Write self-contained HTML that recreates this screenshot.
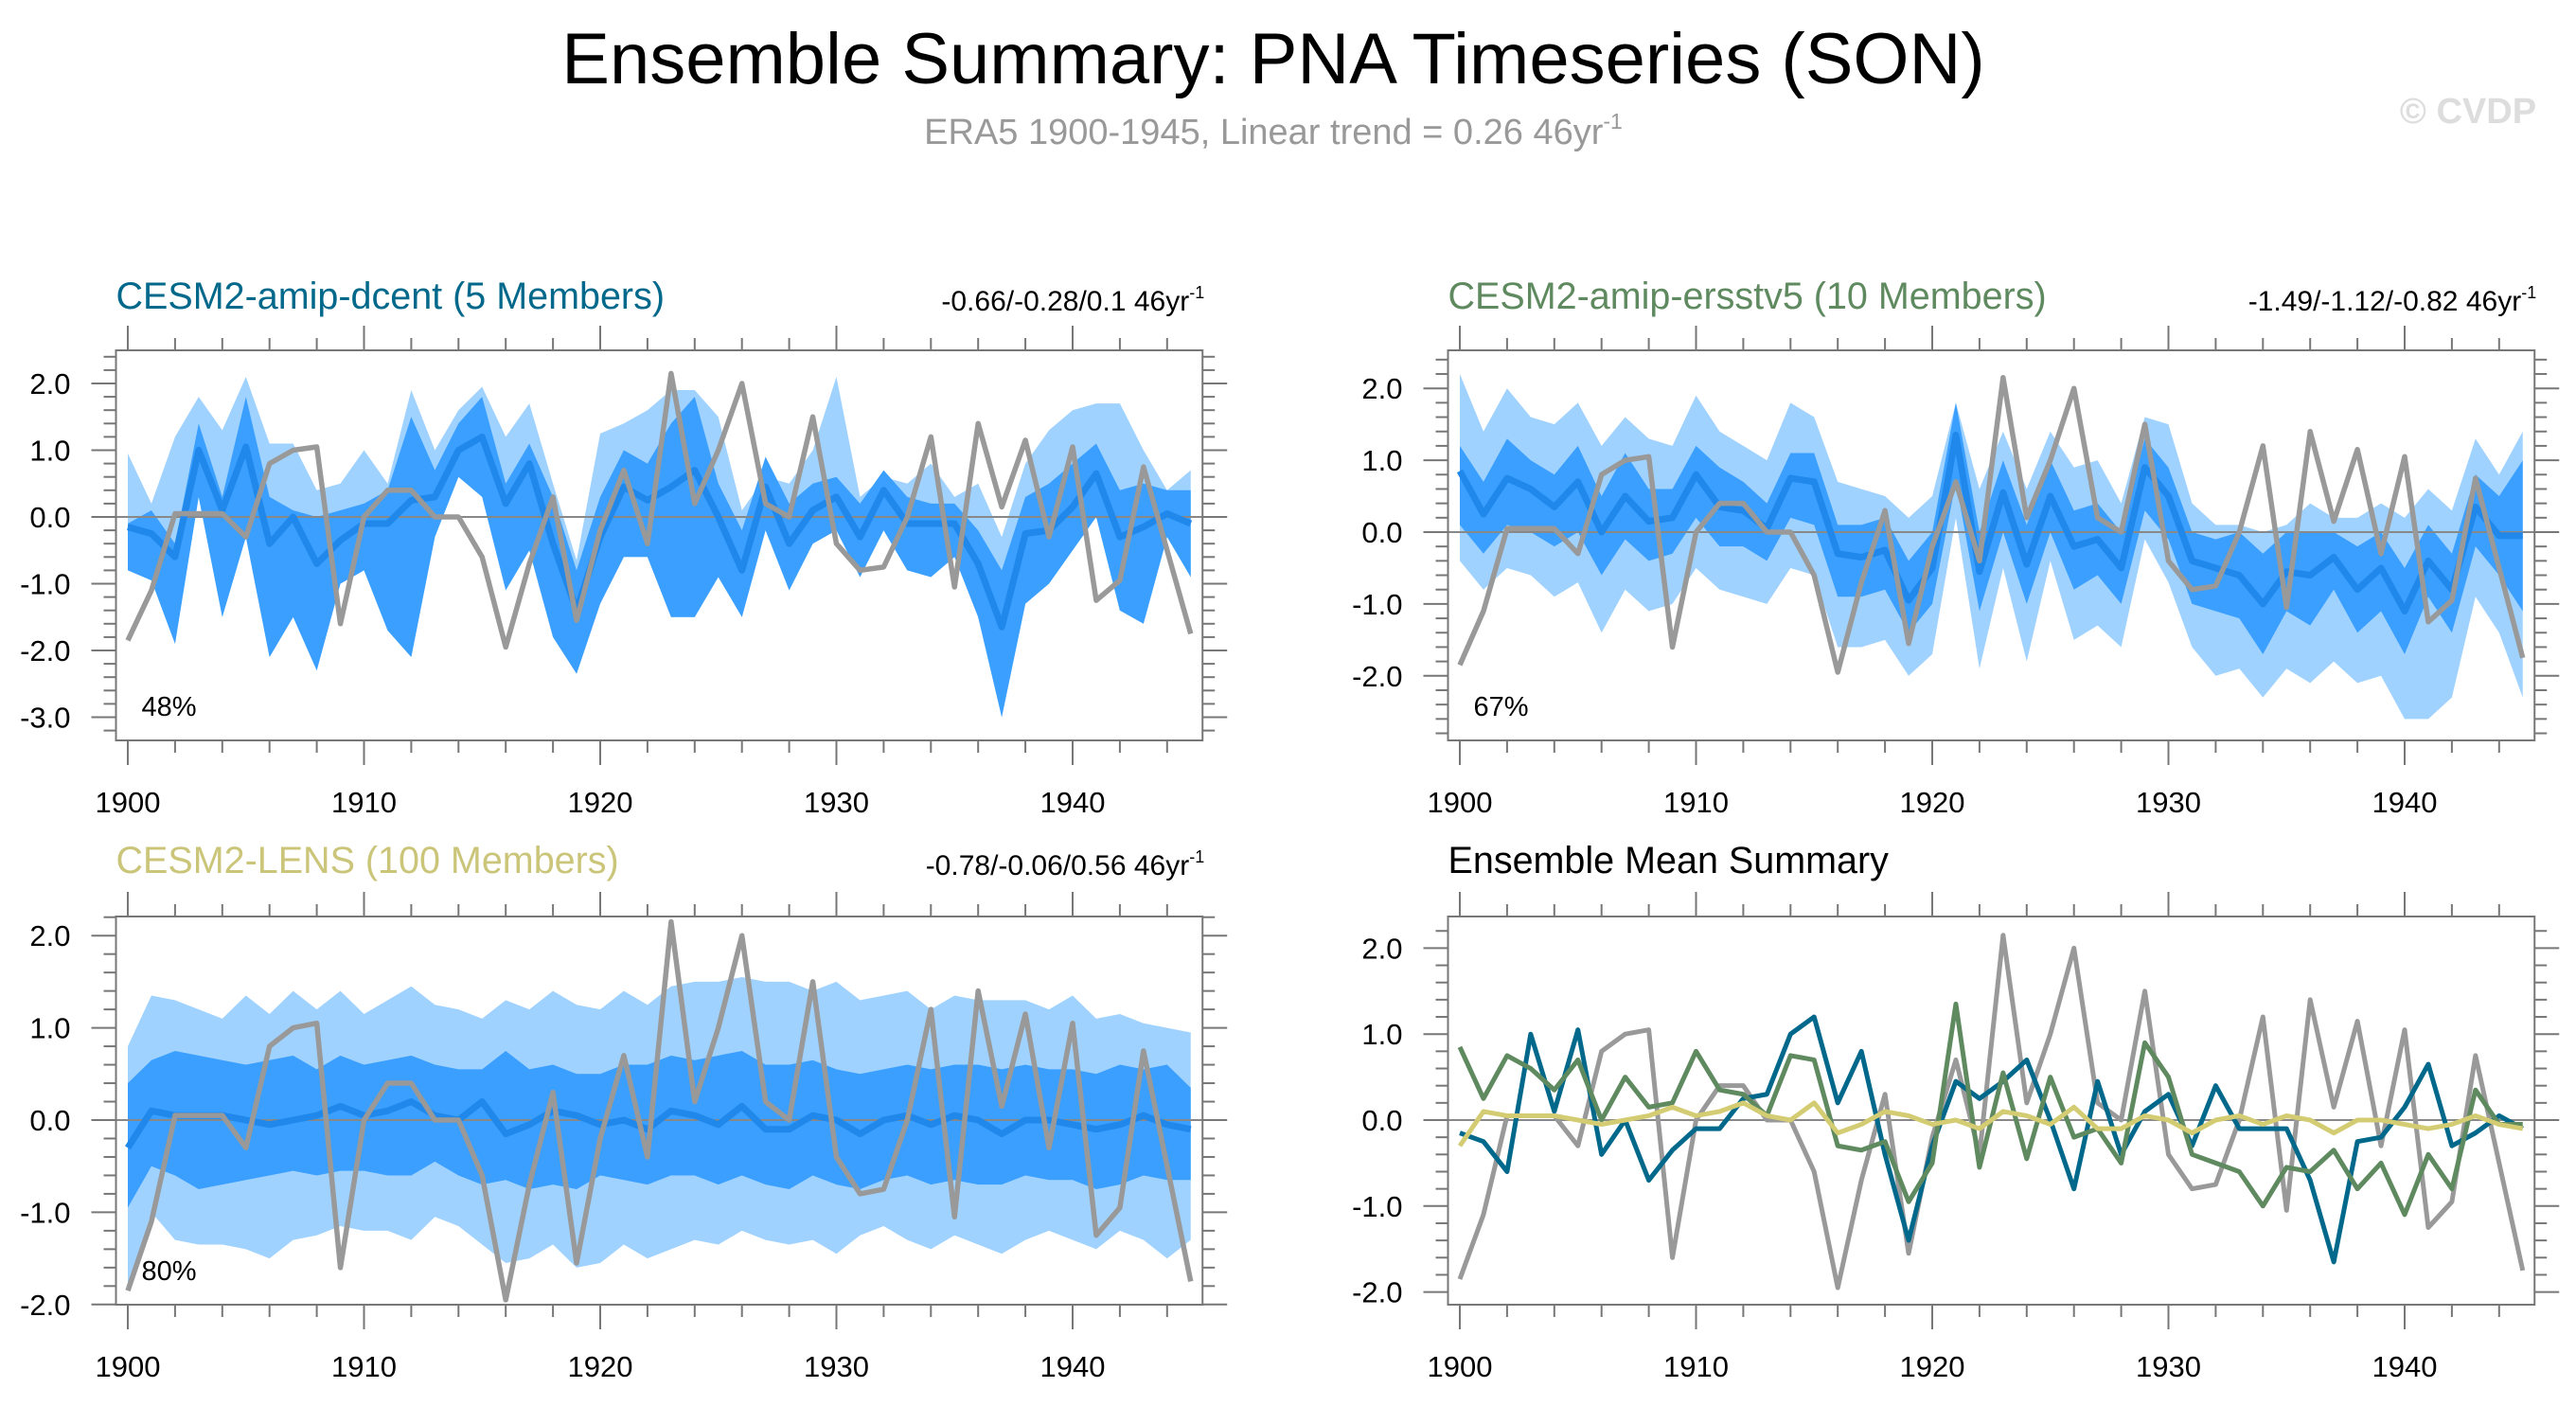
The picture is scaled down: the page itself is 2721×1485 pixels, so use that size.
<!DOCTYPE html>
<html><head><meta charset="utf-8"><style>
body{margin:0;background:#fff}
svg text{font-family:"Liberation Sans",Arial,sans-serif}
</style></head><body>
<svg id="chart" width="2721" height="1480" viewBox="0 0 2721 1480" xmlns="http://www.w3.org/2000/svg">
<text x="1345" y="88" font-size="76" text-anchor="middle" fill="#000">Ensemble Summary: PNA Timeseries (SON)</text>
<text x="1345" y="152" font-size="38" text-anchor="middle" fill="#999">ERA5 1900-1945, Linear trend = 0.26 46yr<tspan font-size="23" dy="-16">-1</tspan></text>
<text x="2607" y="130" font-size="38" font-weight="bold" text-anchor="middle" fill="#dddddd">© CVDP</text>
<g id="panels"></g>
</svg>
<script>
const years = [];
for (let y = 1900; y <= 1945; y++) years.push(y);
const era5 = [-1.85,-1.1,0.05,0.05,0.05,-0.3,0.8,1.0,1.05,-1.6,0.0,0.4,0.4,0.0,0.0,-0.6,-1.95,-0.7,0.3,-1.55,-0.2,0.7,-0.4,2.15,0.2,1.0,2.0,0.2,0.0,1.5,-0.4,-0.8,-0.75,0.0,1.2,-1.05,1.4,0.15,1.15,-0.3,1.05,-1.25,-0.95,0.75,-0.5,-1.75];
const dcentMean = [-0.15,-0.25,-0.6,1.0,0.1,1.05,-0.4,0.0,-0.7,-0.35,-0.1,-0.1,0.25,0.3,1.0,1.2,0.2,0.8,-0.4,-1.4,-0.3,0.45,0.25,0.45,0.7,0.0,-0.8,0.45,-0.4,0.1,0.3,-0.3,0.4,-0.1,-0.1,-0.1,-0.7,-1.65,-0.25,-0.2,0.15,0.65,-0.3,-0.15,0.05,-0.1];
const dcentDarkHi = [-0.1,0.1,-0.4,1.4,0.3,1.8,0.3,0.1,0.0,0.1,0.2,0.4,1.5,0.7,1.4,1.8,0.5,1.1,0.3,-0.8,0.3,1.0,0.8,1.4,1.8,0.5,-0.2,0.9,0.2,0.5,0.6,0.2,0.7,0.3,0.2,0.2,-0.2,-0.8,0.3,0.5,0.8,1.1,0.4,0.5,0.4,0.4];
const dcentDarkLo = [-0.8,-0.95,-1.9,0.3,-1.5,-0.3,-2.1,-1.5,-2.3,-1.0,-0.8,-1.7,-2.1,-0.3,0.6,0.3,-1.1,-0.5,-1.8,-2.35,-1.3,-0.6,-0.6,-1.5,-1.5,-0.9,-1.5,-0.2,-1.1,-0.4,-0.2,-0.9,-0.2,-0.8,-0.9,-0.6,-1.5,-3.0,-1.3,-1.0,-0.5,0.0,-1.4,-1.6,-0.3,-0.9];
const dcentLightHi = [0.95,0.2,1.2,1.8,1.3,2.1,1.1,1.1,0.4,0.5,1.0,0.5,1.9,1.0,1.6,1.95,1.2,1.7,0.5,-0.65,1.25,1.4,1.6,1.9,1.9,1.5,0.1,0.6,0.5,1.0,2.1,0.3,0.6,0.5,0.8,0.3,0.5,-0.3,0.8,1.3,1.6,1.7,1.7,1.0,0.4,0.7];
const dcentLightLo = [-0.8,-0.95,-1.9,0.3,-1.5,-0.3,-2.1,-1.5,-2.3,-1.0,-0.8,-1.7,-2.1,-0.3,0.6,0.3,-1.1,-0.5,-1.8,-2.35,-1.3,-0.6,-0.6,-1.5,-1.5,-0.9,-1.5,-0.2,-1.1,-0.4,-0.2,-0.9,-0.2,-0.8,-0.9,-0.6,-1.5,-3.0,-1.3,-1.0,-0.5,0.0,-1.4,-1.6,-0.3,-0.9];
const ersstMean = [0.85,0.25,0.75,0.6,0.35,0.7,0.0,0.5,0.15,0.2,0.8,0.35,0.3,0.05,0.75,0.7,-0.3,-0.35,-0.25,-0.95,-0.5,1.35,-0.55,0.55,-0.45,0.5,-0.2,-0.1,-0.5,0.9,0.5,-0.4,-0.5,-0.6,-1.0,-0.55,-0.6,-0.35,-0.8,-0.5,-1.1,-0.4,-0.8,0.35,-0.05,-0.05];
const ersstDarkHi = [1.2,0.7,1.3,1.0,0.8,1.2,0.5,1.1,0.6,0.6,1.2,0.9,0.7,0.4,1.1,1.1,0.1,0.1,0.2,-0.4,0.0,1.8,0.0,1.0,0.1,1.0,0.3,0.4,0.0,1.3,0.9,0.0,-0.1,0.0,-0.3,0.0,0.0,0.0,-0.2,0.0,-0.5,0.1,-0.3,0.8,0.5,1.0];
const ersstDarkLo = [0.1,-0.3,0.1,0.0,-0.2,0.0,-0.6,-0.1,-0.4,-0.3,0.2,-0.2,-0.2,-0.4,0.2,0.1,-0.9,-0.9,-0.8,-1.4,-1.0,0.7,-1.1,0.0,-1.0,0.0,-0.8,-0.6,-1.0,0.3,-0.1,-1.0,-1.1,-1.2,-1.7,-1.1,-1.3,-0.8,-1.4,-1.1,-1.7,-0.9,-1.4,-0.2,-0.6,-1.1];
const ersstLightHi = [2.2,1.4,2.0,1.6,1.5,1.8,1.2,1.6,1.3,1.2,1.9,1.4,1.2,1.0,1.8,1.6,0.7,0.6,0.5,0.2,0.5,1.8,0.6,1.4,0.6,1.4,0.9,1.0,0.4,1.6,1.5,0.4,0.1,0.1,0.0,0.1,0.4,0.2,0.2,0.4,0.2,0.6,0.3,1.3,0.8,1.4];
const ersstLightLo = [-0.4,-0.8,-0.5,-0.6,-0.9,-0.7,-1.4,-0.8,-1.1,-1.0,-0.5,-0.8,-0.9,-1.0,-0.5,-0.6,-1.6,-1.6,-1.5,-2.0,-1.7,0.2,-1.9,-0.5,-1.8,-0.4,-1.5,-1.3,-1.6,-0.1,-0.7,-1.6,-2.0,-1.9,-2.3,-1.9,-2.1,-1.8,-2.1,-2.0,-2.6,-2.6,-2.3,-0.9,-1.4,-2.3];
const lensMean = [-0.3,0.1,0.05,0.05,0.05,0.0,-0.05,0.0,0.05,0.15,0.05,0.1,0.2,0.05,0.0,0.2,-0.15,-0.05,0.1,0.05,-0.05,0.0,-0.1,0.1,0.05,-0.05,0.15,-0.1,-0.1,0.05,0.0,-0.15,0.0,0.05,-0.05,0.05,0.0,-0.15,0.0,0.0,-0.05,-0.1,-0.05,0.05,-0.05,-0.1];
const lensDarkHi = [0.4,0.65,0.75,0.7,0.65,0.6,0.65,0.7,0.55,0.7,0.6,0.65,0.7,0.6,0.55,0.55,0.75,0.55,0.6,0.5,0.5,0.6,0.6,0.7,0.65,0.7,0.75,0.6,0.6,0.65,0.55,0.5,0.55,0.6,0.55,0.6,0.6,0.55,0.6,0.55,0.55,0.5,0.6,0.55,0.6,0.35];
const lensDarkLo = [-0.95,-0.5,-0.6,-0.75,-0.7,-0.65,-0.6,-0.55,-0.6,-0.55,-0.55,-0.6,-0.6,-0.45,-0.6,-0.7,-0.65,-0.75,-0.7,-0.75,-0.6,-0.65,-0.7,-0.6,-0.6,-0.7,-0.6,-0.7,-0.75,-0.6,-0.7,-0.75,-0.65,-0.6,-0.7,-0.65,-0.7,-0.7,-0.6,-0.65,-0.65,-0.75,-0.7,-0.6,-0.65,-0.65];
const lensLightHi = [0.8,1.35,1.3,1.2,1.1,1.35,1.15,1.4,1.2,1.4,1.15,1.3,1.45,1.25,1.2,1.1,1.3,1.2,1.4,1.25,1.2,1.4,1.25,1.45,1.5,1.5,1.55,1.5,1.5,1.4,1.5,1.3,1.35,1.4,1.2,1.35,1.3,1.3,1.3,1.2,1.35,1.1,1.15,1.05,1.0,0.95];
const lensLightLo = [-1.85,-1.0,-1.3,-1.35,-1.35,-1.4,-1.5,-1.3,-1.25,-1.15,-1.2,-1.2,-1.3,-1.05,-1.15,-1.35,-1.55,-1.5,-1.35,-1.6,-1.55,-1.35,-1.5,-1.4,-1.3,-1.35,-1.2,-1.3,-1.35,-1.3,-1.45,-1.25,-1.15,-1.3,-1.4,-1.25,-1.35,-1.45,-1.3,-1.2,-1.3,-1.4,-1.2,-1.3,-1.5,-1.3];
const xTickLabels = ["1900","1910","1920","1930","1940"];

const NS = "http://www.w3.org/2000/svg";
const root = document.getElementById("panels");
function mk(tag, attrs, parent) {
  const e = document.createElementNS(NS, tag);
  for (const k in attrs) e.setAttribute(k, attrs[k]);
  (parent || root).appendChild(e);
  return e;
}
function makePanel(p) {
  const g = mk("g", {});
  
  
  const X = yr => p.x0 + (yr - 1900) * 24.95;
  const Y = v => p.zero - v * p.unit;
  const L = p.x0 - 12.5, R = p.x0 + 45.5 * 24.95, T = p.top, B = p.bottom;
  function band(hi, lo, color, nm) {
    let d = "M" + hi.map((v, i) => X(years[i]) + "," + Y(v)).join("L");
    for (let i = lo.length - 1; i >= 0; i--) d += "L" + X(years[i]) + "," + Y(lo[i]);
    const e = mk("path", { d: d + "Z", fill: color }, g);
    
    
  }
  if (p.lightHi) band(p.lightHi, p.lightLo, "#a0d2ff", "range-band-outer");
  if (p.darkHi) band(p.darkHi, p.darkLo, "#3a9fff", "range-band-inner");
  const zl = mk("line", { x1: L, x2: R, y1: Y(0), y2: Y(0), stroke: "#888", "stroke-width": 2 }, g);
  
  
  function line(vals, color, w, nm) {
    const e = mk("polyline", { points: vals.map((v, i) => X(years[i]) + "," + Y(v)).join(" "), fill: "none", stroke: color, "stroke-width": w, "stroke-linejoin": "round" }, g);
    
    
  }
  p.lines.forEach(l => line(l.vals, l.color, l.w, l.nm));
  const fr = mk("rect", { x: L, y: T, width: R - L, height: B - T, fill: "none", stroke: "#777", "stroke-width": 2 }, g);
  
  
  for (let yr = 1900; yr <= 1944; yr += 2) {
    const major = (yr % 10 === 0);
    const len = major ? 26 : 13;
    mk("line", { x1: X(yr), x2: X(yr), y1: T, y2: T - len, stroke: "#777", "stroke-width": 2 }, g);
    mk("line", { x1: X(yr), x2: X(yr), y1: B, y2: B + len, stroke: "#777", "stroke-width": 2 }, g);
  }
  xTickLabels.forEach(s => {
    const t = mk("text", { x: X(+s), y: p.labelY, "font-size": 31, "text-anchor": "middle" }, g);
    t.textContent = s;
    
    
  });
  const vmax = (p.zero - T) / p.unit, vmin = (p.zero - B) / p.unit;
  for (let k = Math.ceil(vmin * 5); k <= Math.floor(vmax * 5); k++) {
    const v = k / 5, major = (k % 5 === 0), len = major ? 26 : 13;
    mk("line", { x1: L, x2: L - len, y1: Y(v), y2: Y(v), stroke: "#777", "stroke-width": 2 }, g);
    mk("line", { x1: R, x2: R + len, y1: Y(v), y2: Y(v), stroke: "#777", "stroke-width": 2 }, g);
  }
  p.yLabels.forEach(v => {
    const t = mk("text", { x: L - 48, y: Y(v) + 11, "font-size": 31, "text-anchor": "end" }, g);
    t.textContent = v.toFixed(1);
    
    
  });
  const ti = mk("text", { x: L, y: p.titleY, "font-size": 39.5, fill: p.titleColor }, g);
  ti.textContent = p.title;
  
  
  if (p.trend) {
    const tr = mk("text", { x: R + 2, y: p.titleY + 2, "font-size": 30, "text-anchor": "end" }, g);
    tr.innerHTML = p.trend + ' 46yr<tspan font-size="18" dy="-13">-1</tspan>';
    
    
  }
  if (p.pct) {
    const pc = mk("text", { x: L + 27, y: p.pctY, "font-size": 29 }, g);
    pc.textContent = p.pct;
    
    
  }
}
const gray = "#999999";
makePanel({ name: "panel-dcent", x0: 135, zero: 546, unit: 70.5, top: 370, bottom: 782, labelY: 858,
  lightHi: dcentLightHi, lightLo: dcentLightLo, darkHi: dcentDarkHi, darkLo: dcentDarkLo,
  lines: [{ vals: dcentMean, color: "#1f88ea", w: 7, nm: "ensemble-mean-line" }, { vals: era5, color: gray, w: 5.5, nm: "era5-line" }],
  yLabels: [2, 1, 0, -1, -2, -3], title: "CESM2-amip-dcent (5 Members)", titleColor: "#00688b", titleY: 326,
  trend: "-0.66/-0.28/0.1", pct: "48%", pctY: 756 });
makePanel({ name: "panel-ersstv5", x0: 1542, zero: 562, unit: 75.9, top: 370, bottom: 782, labelY: 858,
  lightHi: ersstLightHi, lightLo: ersstLightLo, darkHi: ersstDarkHi, darkLo: ersstDarkLo,
  lines: [{ vals: ersstMean, color: "#1f88ea", w: 7, nm: "ensemble-mean-line" }, { vals: era5, color: gray, w: 5.5, nm: "era5-line" }],
  yLabels: [2, 1, 0, -1, -2], title: "CESM2-amip-ersstv5 (10 Members)", titleColor: "#5f8a60", titleY: 326,
  trend: "-1.49/-1.12/-0.82", pct: "67%", pctY: 756 });
makePanel({ name: "panel-lens", x0: 135, zero: 1183, unit: 97.4, top: 968, bottom: 1378, labelY: 1454,
  lightHi: lensLightHi, lightLo: lensLightLo, darkHi: lensDarkHi, darkLo: lensDarkLo,
  lines: [{ vals: lensMean, color: "#1f88ea", w: 7, nm: "ensemble-mean-line" }, { vals: era5, color: gray, w: 5.5, nm: "era5-line" }],
  yLabels: [2, 1, 0, -1, -2], title: "CESM2-LENS (100 Members)", titleColor: "#cbc57a", titleY: 922,
  trend: "-0.78/-0.06/0.56", pct: "80%", pctY: 1352 });
makePanel({ name: "panel-ensemble-mean-summary", x0: 1542, zero: 1183, unit: 90.8, top: 968, bottom: 1378, labelY: 1454,
  lines: [{ vals: era5, color: gray, w: 5, nm: "era5-line" }, { vals: dcentMean, color: "#00688b", w: 5, nm: "dcent-mean-line" },
          { vals: ersstMean, color: "#5f8a60", w: 5, nm: "ersstv5-mean-line" }, { vals: lensMean, color: "#d4cc72", w: 5, nm: "lens-mean-line" }],
  yLabels: [2, 1, 0, -1, -2], title: "Ensemble Mean Summary", titleColor: "#000", titleY: 922 });
</script>
</body></html>
